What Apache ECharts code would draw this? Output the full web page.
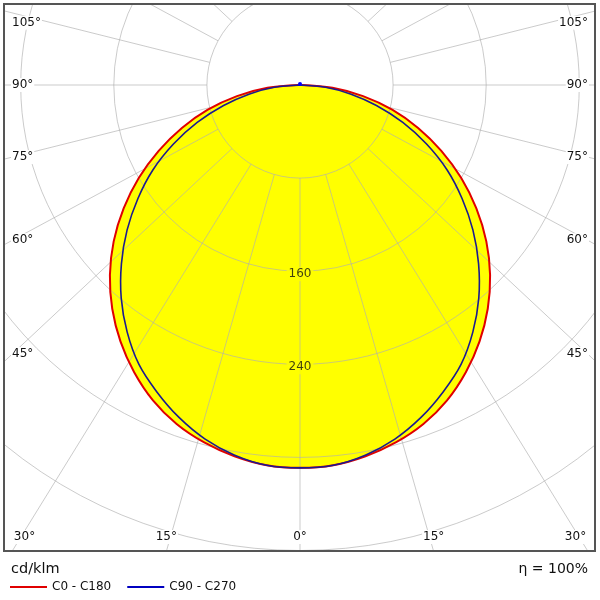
<!DOCTYPE html>
<html>
<head>
<meta charset="utf-8">
<script src="https://cdn.jsdelivr.net/npm/echarts@6/dist/echarts.min.js"></script>
<style>html,body{margin:0;padding:0;background:#fff;}#chart{width:600px;height:600px;}</style>
</head>
<body>
<div id="chart"></div>
<script>
// ---- data ----
const gammaDeg = [0,5,10,15,20,25,30,35,40,45,50,55,60,65,70,75,80,85,90];
const c0c180  = [329,328,324,318,310,299,285,269,251,231,209,185,160,134,108,82,55,28,1];
const c90c270 = [329,328,323,315,304,291,277,259,239,217,194,170,146,120,94,68,44,22,0];
const radiusStep = 80;
const radiusInner = 80;
const radiusMax = 480;
const radiusLabels = [160, 240];
const rayStep = 15;
const sideAngles = [105, 90, 75, 60, 45];
const bottomAngles = [30, 15, 0];
const unitLabel = 'cd/klm';
const etaLabel = 'η = 100%';
const seriesNames = ['C0 - C180', 'C90 - C270'];

// ---- layout ----
const cx = 300, cy = 85;
const pxPerUnit = 93.1 / 80;
const outerPx = radiusMax * pxPerUnit;
const rayAspect = 0.935; // the reference draws its rays slightly flattened
const font = '"DejaVu Sans", Verdana, sans-serif';
const gridColor = 'rgba(175,175,175,0.65)';
const smoothness = 0.33;

function loop(vals) {
  const pts = [];
  for (let i = gammaDeg.length - 1; i >= 0; i--) pts.push([vals[i], gammaDeg[i]]);
  for (let i = 1; i < gammaDeg.length; i++) pts.push([vals[i], 360 - gammaDeg[i]]);
  return pts;
}

const graphics = [];
[[0,0,600,4],[0,0,4,600],[596,0,4,600],[0,552,600,48]].forEach(r => {
  graphics.push({type:'rect', z:50, silent:true, shape:{x:r[0],y:r[1],width:r[2],height:r[3]}, style:{fill:'#fff'}});
});
graphics.push({type:'rect', z:60, silent:true, shape:{x:4,y:4,width:591,height:547}, style:{fill:'none', stroke:'#555', lineWidth:2}});

function angleText(txt, x, y, align) {
  graphics.push({type:'text', z:70, silent:true, x:x, y:y, style:{text:txt, align:align, verticalAlign:'middle', fill:'#111', fontSize:12, fontFamily:font, backgroundColor:'#fff', padding:[1,1]}});
}
sideAngles.forEach(a => {
  const t = a * Math.PI / 180;
  let y = cy + 269 * Math.cos(t) / Math.sin(t);
  y = Math.max(y, 22.7);
  angleText(a + '°', 11, y, 'left');
  angleText(a + '°', 589, y, 'right');
});
bottomAngles.forEach(a => {
  const t = a * Math.PI / 180;
  const d = 499 * Math.tan(t);
  const xl = Math.max(cx - d, 24.5);
  const xr = Math.min(cx + d, 575.5);
  angleText(a + '°', xl, 537, 'center');
  if (a !== 0) angleText(a + '°', xr, 537, 'center');
});
graphics.push({type:'text', z:70, silent:true, x:11, y:569, style:{text:unitLabel, align:'left', verticalAlign:'middle', fill:'#111', fontSize:14.5, fontFamily:font}});
graphics.push({type:'text', z:70, silent:true, x:588, y:569, style:{text:etaLabel, align:'right', verticalAlign:'middle', fill:'#111', fontSize:14, fontFamily:font}});

// grid rays as line series through the polar scales
const raySeries = [];
for (let a = 0; a < 360; a += rayStep) {
  const t = a * Math.PI / 180;
  let disp = Math.atan2(Math.sin(t), rayAspect * Math.cos(t)) * 180 / Math.PI;
  if (disp < 0) disp += 360;
  raySeries.push({type:'line', coordinateSystem:'polar', silent:true, z:2, showSymbol:false,
    data:[[radiusInner, disp], [radiusMax, disp]], lineStyle:{color:gridColor, width:1}});
}

// smooth curve through the data points, positioned by the polar coordinate system
function curveSeries(name, pts, z, kind, color, width, dot) {
  return {
    type:'custom', name:name, coordinateSystem:'polar', data:pts, z:z, silent:true,
    itemStyle:{color:color},
    renderItem: function (params, api) {
      if (params.dataIndexInside !== 0) return;
      const n = params.dataInsideLength;
      const points = [];
      for (let i = 0; i < n; i++) points.push(api.coord([api.value(0, i), api.value(1, i)]));
      const children = [];
      if (kind === 'fill') {
        children.push({type:'polygon', shape:{points:points, smooth:smoothness}, style:{fill:color, stroke:null}});
      } else {
        children.push({type:'polyline', shape:{points:points, smooth:smoothness}, style:{fill:null, stroke:color, lineWidth:width}});
        if (dot) children.push({type:'circle', shape:{cx:points[0][0], cy:points[0][1] - 1, r:2}, style:{fill:dot}});
      }
      return {type:'group', children:children};
    }
  };
}

const chart = echarts.init(document.getElementById('chart'), null, {renderer:'canvas'});
chart.setOption({
  animation: false,
  backgroundColor: '#fff',
  polar: {center:[cx, cy], radius:[0, outerPx]},
  angleAxis: {type:'value', min:0, max:360, startAngle:270, axisLine:{show:false}, axisTick:{show:false},
    axisLabel:{show:false}, splitLine:{show:false}},
  radiusAxis: {type:'value', min:0, max:radiusMax, interval:radiusStep, z:2,
    axisLine:{show:false}, axisTick:{show:false}, axisLabel:{show:false},
    splitLine:{show:true, lineStyle:{color:gridColor, width:1}}},
  legend: {
    data: [{name:seriesNames[0], itemStyle:{color:'#e00000'}}, {name:seriesNames[1], itemStyle:{color:'#0000c0'}}],
    left: 5, top: 576, z: 100, itemWidth: 37, itemHeight: 2, itemGap: 16,
    icon: 'rect', textStyle:{fontSize:12, fontFamily:font, color:'#111'}
  },
  graphic: {elements: graphics},
  series: [
    curveSeries('fill', loop(c0c180), 1, 'fill', '#ffff00'),
    ...raySeries,
    curveSeries(seriesNames[0], loop(c0c180), 3, 'line', '#e00000', 2),
    curveSeries(seriesNames[1], loop(c90c270), 4, 'line', '#1a1a90', 1.6, '#0000ff'),
    {type:'scatter', coordinateSystem:'polar', symbolSize:0, z:5, silent:true,
     data: radiusLabels.map(v => [v, 0]),
     label:{show:true, position:'inside', offset:[0,3], formatter: p => String(p.value[0]), color:'#111', fontSize:12, fontFamily:font, backgroundColor:'#ffff00', padding:[1,2]}}
  ]
});
</script>
</body>
</html>
